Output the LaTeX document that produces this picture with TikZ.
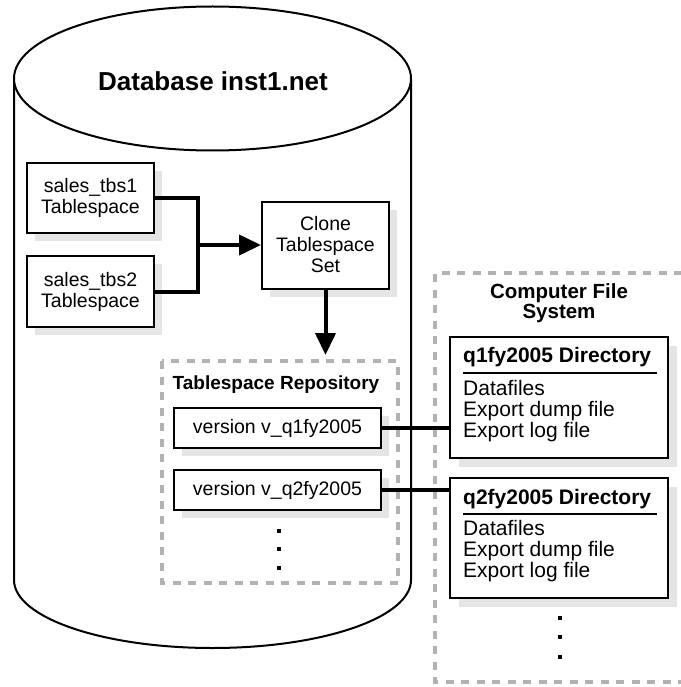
\documentclass[tikz,border=0pt]{standalone}
\usepackage{fontspec}
\setmainfont{Liberation Sans}
\usetikzlibrary{arrows.meta,shadows}
\begin{document}
\begin{tikzpicture}[x=1pt,y=-1pt,
  box/.style={draw=black,line width=2pt,fill=white,inner sep=0pt,align=center,
    drop shadow={shadow xshift=8pt,shadow yshift=-8pt,fill=black!10,opacity=1},
    font=\fontsize{19.5}{21}\selectfont},
  dirbox/.style={draw=black,line width=2pt,fill=white,inner sep=0pt,
    minimum width=218pt,minimum height=120pt,
    drop shadow={shadow xshift=9pt,shadow yshift=-9pt,fill=black!10,opacity=1}},
  conn/.style={line width=4pt},
  grp/.style={draw=black!30,line width=4pt,dash pattern=on 8pt off 7.5pt},
  dotsq/.style={fill=black},
  boldt/.style={font=\bfseries\fontsize{19}{20}\selectfont,inner sep=0pt},
  dirtitle/.style={font=\bfseries\fontsize{21}{21}\selectfont,inner sep=0pt,anchor=west},
  dirtext/.style={font=\fontsize{21}{21}\selectfont,inner sep=0pt,anchor=west,align=left},
]
\useasboundingbox (0,0) rectangle (680,687);
% cylinder
\draw[line width=2pt,fill=white] (14,80) -- (14,580)
  arc[start angle=180,end angle=0,x radius=198.5,y radius=68] -- (411,80);
\draw[line width=2pt,fill=white] (212.5,78.5) ellipse [x radius=198.5,y radius=72];
\node[font=\bfseries\fontsize{26}{28}\selectfont,inner sep=0pt] (dbtitle) at (213,81) {Database inst1.net};

% left boxes
\node[box,minimum width=127pt,minimum height=70pt] (tbs1) at (90.5,198) {sales\_tbs1\\Tablespace};
\node[box,minimum width=127pt,minimum height=71pt] (tbs2) at (90.5,291.5) {sales\_tbs2\\Tablespace};
\node[box,minimum width=127pt,minimum height=87pt] (clone) at (325.5,245) {Clone\\Tablespace\\Set};

\coordinate (j) at (198,245);
\draw[conn] (tbs1.east) -| (j) |- (tbs2.east);
\draw[conn,-{Triangle[length=22pt,width=20pt]}] (j) -- (clone.west);

% repository
\draw[grp] (162,361) rectangle (398,583);
\coordinate (reptop) at (325.5,355);
\draw[conn,-{Triangle[length=22pt,width=20pt]}] (clone.south) -- (reptop);
\node[boldt,anchor=west] (reptitle) at (172.5,385) {Tablespace Repository};
\node[box,minimum width=207pt,minimum height=40pt] (v1) at (277.5,428) {version v\_q1fy2005};
\node[box,minimum width=207pt,minimum height=40pt] (v2) at (277.5,490) {version v\_q2fy2005};
\fill[dotsq] (277,529) rectangle (281,533);
\fill[dotsq] (277,547) rectangle (281,551);
\fill[dotsq] (277,566) rectangle (281,570);

% computer file system
\draw[grp] (682,273) -- (435,273) -- (435,682) -- (682,682);
\node[font=\bfseries\fontsize{20.5}{20}\selectfont,inner sep=0pt,align=center] (cfs) at (559,303) {Computer File\\System};

\node[dirbox,minimum height=121pt] (d1) at (559,397.5) {};
\node[dirtitle] (d1t) at (463,357) {q1fy2005 Directory};
\draw[line width=2pt] (463,373) -- (657,373);
\node[dirtext] (d1x) at (463,411) {Datafiles\\Export dump file\\Export log file};

\node[dirbox] (d2) at (559,538) {};
\node[dirtitle] (d2t) at (463,499) {q2fy2005 Directory};
\draw[line width=2pt] (463,514) -- (657,514);
\node[dirtext] (d2x) at (463,551) {Datafiles\\Export dump file\\Export log file};

\fill[dotsq] (558,616) rectangle (562,620);
\fill[dotsq] (558,635) rectangle (562,639);
\fill[dotsq] (558,655) rectangle (562,659);

\draw[conn] (v1.east) -- (v1.east -| d1.west);
\draw[conn] (v2.east) -- (v2.east -| d2.west);
\end{tikzpicture}
\end{document}
